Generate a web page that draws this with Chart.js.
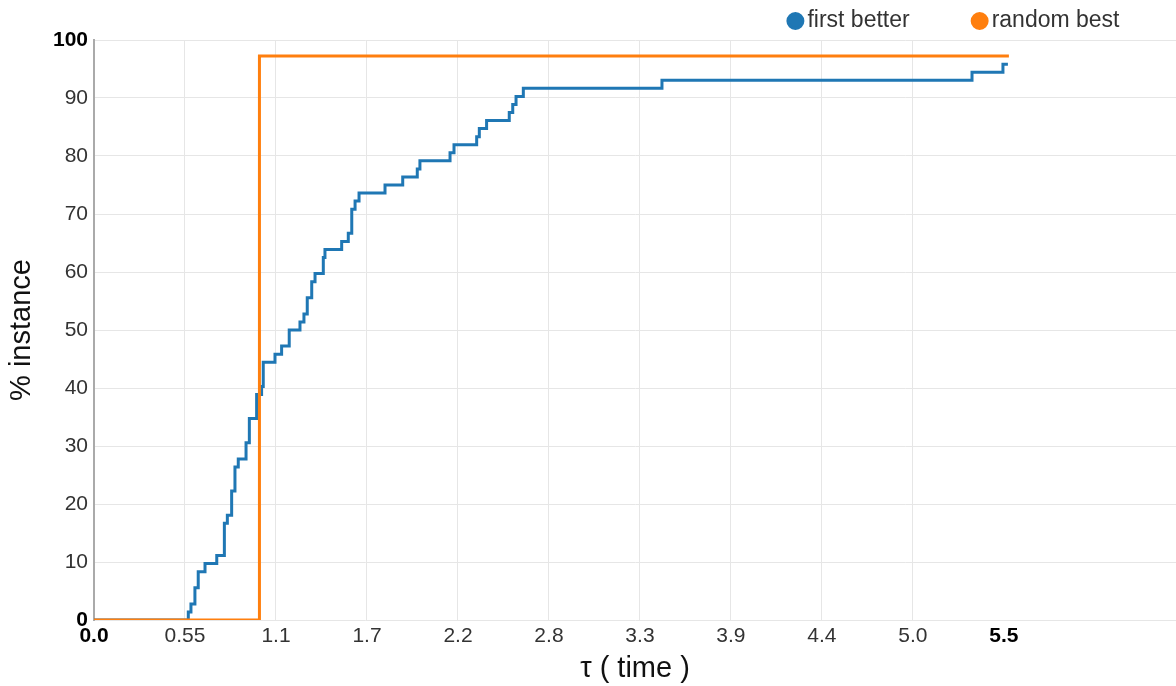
<!DOCTYPE html>
<html>
<head>
<meta charset="utf-8">
<script src="https://cdn.jsdelivr.net/npm/chart.js@4/dist/chart.umd.min.js"></script>
<style>
  html, body { margin: 0; padding: 0; background: #fff; }
  #wrap { width: 1176px; height: 686px; position: relative; }
</style>
</head>
<body>
<div id="wrap"><canvas id="c"></canvas></div>
<script>
// ---- data ----
const seriesNames = ['first better', 'random best'];
const firstBetterTau = [0, 0.570, 0.586, 0.610, 0.630, 0.671, 0.742, 0.788, 0.806, 0.832, 0.852, 0.872, 0.919, 0.939, 0.983, 1.013, 1.023, 1.094, 1.134, 1.180, 1.245, 1.269, 1.289, 1.316, 1.336, 1.386, 1.396, 1.497, 1.537, 1.558, 1.578, 1.602, 1.759, 1.866, 1.954, 1.970, 2.152, 2.176, 2.313, 2.329, 2.373, 2.510, 2.531, 2.551, 2.595, 3.433, 5.307, 5.494, 5.524];
const firstBetterPct = [0, 1.39, 2.78, 5.56, 8.33, 9.72, 11.11, 16.67, 18.06, 22.22, 26.39, 27.78, 30.56, 34.72, 38.89, 40.28, 44.44, 45.83, 47.22, 50.00, 51.39, 52.78, 55.56, 58.33, 59.72, 62.50, 63.89, 65.28, 66.67, 70.83, 72.22, 73.61, 75.00, 76.39, 77.78, 79.17, 80.56, 81.94, 83.33, 84.72, 86.11, 87.50, 88.89, 90.28, 91.67, 93.06, 94.44, 95.83, 95.83];
const randomBestTau = [0, 1.0, 5.53];
const randomBestPct = [0, 97.22, 97.22];
const xTickValues = [0, 0.55, 1.1, 1.65, 2.2, 2.75, 3.3, 3.85, 4.4, 4.95, 5.5];
const xTickLabels = ['0.0', '0.55', '1.1', '1.7', '2.2', '2.8', '3.3', '3.9', '4.4', '5.0', '5.5'];
const yTickValues = [0, 10, 20, 30, 40, 50, 60, 70, 80, 90, 100];
const xTitle = 'τ ( time )';
const yTitle = '% instance';

// ---- build ----
const toPoints = (xs, ys) => xs.map((x, i) => ({ x: x, y: ys[i] }));
const FONT = '"Liberation Sans", Arial, sans-serif';

const legendShift = {
  id: 'legendShift',
  afterLayout(chart) {
    const lg = chart.legend;
    if (!lg) return;
    lg.top = -60;
    lg.right = 1189.5;
    if (lg.lineWidths && lg.lineWidths.length) lg.lineWidths[0] += 0.5;
  }
};

const tickFont = (ctx, n) => ({ family: FONT, size: 21, weight: (ctx.index === 0 || ctx.index === n - 1) ? 'bold' : 'normal' });
const tickColor = (ctx, n) => (ctx.index === 0 || ctx.index === n - 1) ? '#000' : '#333';

new Chart(document.getElementById('c'), {
  type: 'line',
  data: {
    datasets: [
      {
        label: seriesNames[0],
        data: toPoints(firstBetterTau, firstBetterPct),
        borderColor: '#1f77b4',
        backgroundColor: '#1f77b4',
        borderWidth: 3,
        pointRadius: 0,
        stepped: 'before',
        fill: false,
        order: 1
      },
      {
        label: seriesNames[1],
        data: toPoints(randomBestTau, randomBestPct),
        borderColor: '#ff7f0e',
        backgroundColor: '#ff7f0e',
        borderWidth: 3,
        pointRadius: 0,
        stepped: 'before',
        fill: false,
        order: 0
      }
    ]
  },
  options: {
    responsive: true,
    maintainAspectRatio: false,
    animation: false,
    layout: { padding: 0 },
    plugins: {
      tooltip: { enabled: false },
      legend: {
        position: 'top',
        align: 'end',
        maxHeight: 40,
        labels: {
          usePointStyle: true,
          pointStyle: 'circle',
          boxWidth: 1,
          boxHeight: 10.6,
          padding: 69.5,
          color: '#333',
          font: { family: FONT, size: 23 },
          sort: (a, b) => a.datasetIndex - b.datasetIndex
        }
      }
    },
    scales: {
      x: {
        type: 'linear',
        min: 0,
        max: 6.54,
        afterBuildTicks: (scale) => { scale.ticks = xTickValues.map(v => ({ value: v })); },
        afterFit: (scale) => { scale.height = 66; },
        ticks: {
          autoSkip: false,
          maxRotation: 0,
          padding: 4,
          callback: (v, i) => xTickLabels[i],
          font: (ctx) => tickFont(ctx, xTickValues.length),
          color: (ctx) => tickColor(ctx, xTickValues.length)
        },
        grid: {
          drawTicks: false,
          lineWidth: 1,
          color: (ctx) => (ctx.tick && ctx.tick.value === 5.5) ? 'rgba(0,0,0,0)' : '#e6e6e6'
        },
        border: { display: false },
        title: {
          display: true,
          text: xTitle,
          color: '#111',
          font: { family: FONT, size: 29 },
          padding: { top: 0, bottom: 0 }
        }
      },
      y: {
        type: 'linear',
        min: 0,
        max: 100,
        afterBuildTicks: (scale) => { scale.ticks = yTickValues.map(v => ({ value: v })); },
        afterFit: (scale) => { scale.width = 94; },
        ticks: {
          padding: 6,
          font: (ctx) => tickFont(ctx, yTickValues.length),
          color: (ctx) => tickColor(ctx, yTickValues.length)
        },
        grid: { drawTicks: false, lineWidth: 1, color: '#e6e6e6' },
        border: { display: true, color: '#aaa', width: 2 },
        title: {
          display: true,
          text: yTitle,
          color: '#111',
          font: { family: FONT, size: 29 },
          padding: { top: 5, bottom: 0 }
        }
      }
    }
  },
  plugins: [legendShift]
});
</script>
</body>
</html>
